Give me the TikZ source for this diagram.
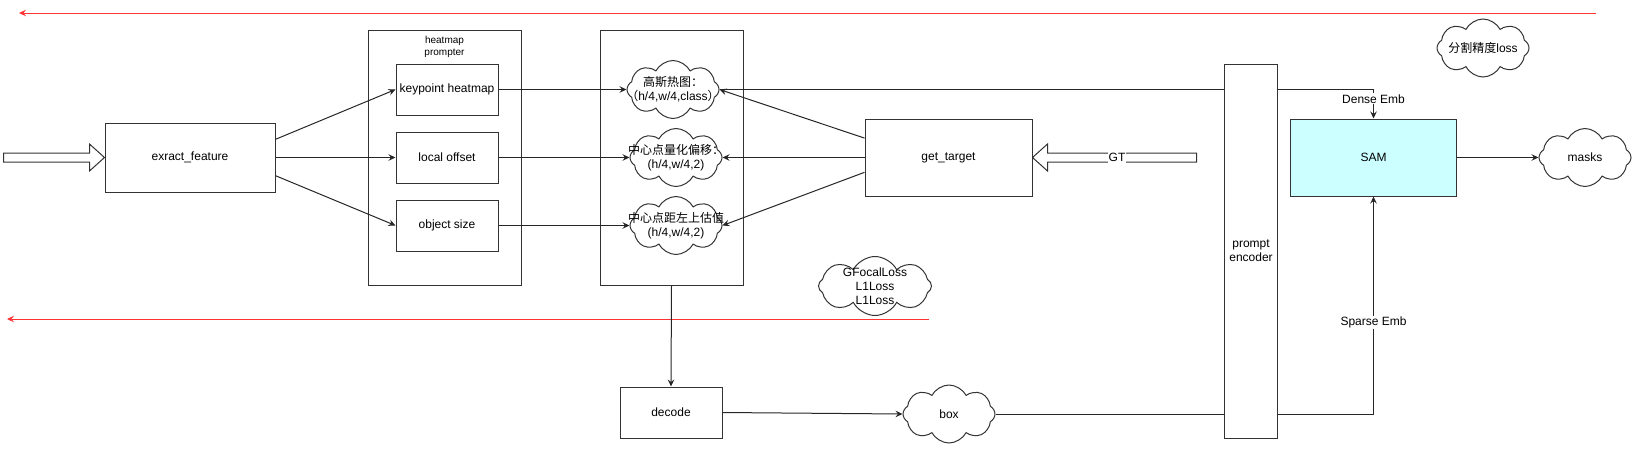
\documentclass[tikz,border=0pt]{standalone}
\usepackage{fontspec}
\setmainfont{Liberation Sans}
\newfontfamily\cjk{Noto Sans CJK SC}
\usepackage{tikz}
\usetikzlibrary{shapes.symbols, arrows.meta, positioning, calc}
\definecolor{samfill}{HTML}{CCFFFF}
\definecolor{lossred}{HTML}{FF3333}
\tikzset{
  blk/.style={rectangle, draw=black!80, line width=1pt, align=center, inner sep=2pt},
  stage/.style={blk, minimum width=102pt, minimum height=51pt},
  grp/.style={blk, minimum width=143pt, minimum height=255pt},
  puff/.style={cloud, cloud puffs=8, cloud puff arc=125, cloud ignores aspect, draw=black!80, line width=1pt, minimum width=92pt, minimum height=58pt, inner sep=0pt},
  ptxt/.style={align=center, inner sep=0pt},
  hollow/.style={draw=black!80, line width=1pt, fill=white},
  arr/.style={-{Stealth[length=7pt, width=6.5pt, inset=2.5pt]}, line width=1pt, draw=black!85},
  lossarr/.style={arr, draw=lossred},
  tag/.style={fill=white, inner sep=1pt},
}

\begin{document}
\begin{tikzpicture}[x=1pt, y=-1pt, font=\fontsize{12}{14}\selectfont]
  \useasboundingbox (0,0) rectangle (1639,453);

  % loss feedback lines
  \coordinate (topR) at (1596,13);
  \coordinate (topL) at (19,13);
  \coordinate (midR) at (929,319);
  \coordinate (midL) at (7,319);
  \draw[lossarr] (topR) -- (topL);
  \draw[lossarr] (midR) -- (midL);

  % backbone + heatmap prompter
  \node[blk, minimum width=170pt, minimum height=69pt] (feat) at (190,157.5) {exract\_feature};
  \node[blk, minimum width=153pt, minimum height=255pt] (prompter) at (444.5,157.5) {};
  \node[font=\fontsize{10}{12}\selectfont, align=center, below=3pt of prompter.north] (prompterlbl) {heatmap\\prompter};
  \node[stage] (kp) at (447,89.5) {keypoint heatmap};
  \node[stage] (offset) at (447,157.5) {local offset};
  \node[stage] (size) at (447,225.5) {object size};

  % targets
  \node[grp] (targets) at (671.5,157.5) {};
  \node[puff, label={[ptxt]center:{{\cjk 高斯热图：}\\{\cjk （}h/4,w/4,class{\cjk ）}}}] (heat) at (673,89.5) {};
  \node[puff, label={[ptxt]center:{{\cjk 中心点量化偏移：}\\(h/4,w/4,2)}}] (shift) at (676,157.5) {};
  \node[puff, label={[ptxt]center:{{\cjk 中心点距左上估值}\\(h/4,w/4,2)}}] (corner) at (676,225.5) {};
  \node[blk, minimum width=167pt, minimum height=77pt] (target) at (948.5,157.5) {get\_target};
  \node[puff, minimum width=113pt, minimum height=59pt, label={[ptxt]center:{GFocalLoss\\L1Loss\\L1Loss}}] (focal) at (875,286) {};

  % hollow input arrows
  \draw[hollow] (feat.west) -- ++(-15,-13.5) -- ++(0,9) -- ++(-86,0) -- ++(0,9) -- ++(86,0) -- ++(0,9) -- cycle;
  \draw[hollow] (target.east) -- ++(15,-13.5) -- ++(0,9) -- ++(149,0) -- ++(0,9) -- ++(-149,0) -- ++(0,9) -- cycle;
  \node[tag] (gt) at (1117,157.5) {GT};

  % SAM side
  \node[blk, fill=samfill, minimum width=166pt, minimum height=77pt] (sam) at (1373.5,157.5) {SAM};
  \node[puff] (masks) at (1585,157.5) {masks};
  \node[puff, label={center:{{\cjk 分割精度}loss}}] (segloss) at (1483,48) {};

  % decode
  \node[stage] (decode) at (671,412.5) {decode};
  \node[puff] (box) at (949,414) {box};

  \draw[arr] (feat.12) -- (kp.west);
  \draw[arr] (feat.east) -- (offset.west);
  \draw[arr] (feat.-12) -- (size.west);
  \draw[arr] (kp.east) -- (heat.west);
  \draw[arr] (offset.east) -- (shift.west);
  \draw[arr] (size.east) -- (corner.west);
  \draw[arr] (target.167) -- (heat.east);
  \draw[arr] (target.west) -- (shift.east);
  \draw[arr] (target.190) -- (corner.east);
  \draw[arr] (targets.south) -- (decode.north);
  \draw[arr] (decode.east) -- (box.west);
  \draw[arr] (sam.east) -- (masks.west);
  \draw[arr] (heat.east) -| node[tag, pos=0.66] {Dense Emb} (sam.north);
  \draw[arr] (box.east) -| node[tag, pos=0.71] {Sparse Emb} (sam.south);

  % encoder sits over the two long lines
  \node[blk, fill=white, minimum width=53pt, minimum height=374pt] (encoder) at (1251,251) {prompt\\encoder};
\end{tikzpicture}
\end{document}
